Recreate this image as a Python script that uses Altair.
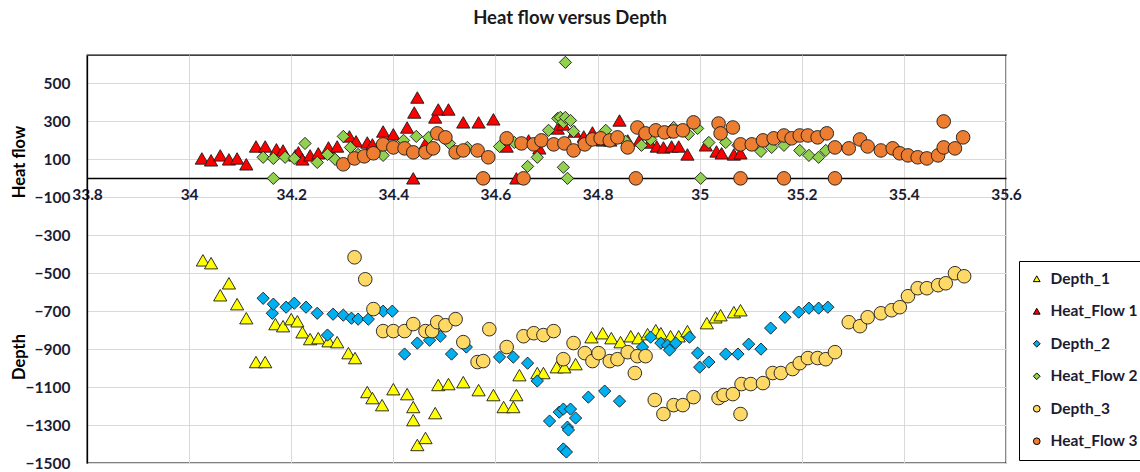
import altair as alt
import pandas as pd

# ---------------- data ----------------
series_names = ["Depth_1", "Heat_Flow 1", "Depth_2", "Heat_Flow 2", "Depth_3", "Heat_Flow 3"]
series_colors = ["#FFFF00", "#FF0000", "#00B0F0", "#92D050", "#FFD966", "#ED7D31"]
series_shapes = ["triangle-up", "triangle-up", "diamond", "diamond", "circle", "circle"]

x_ticks = [33.8, 34.0, 34.2, 34.4, 34.6, 34.8, 35.0, 35.2, 35.4, 35.6]
y_ticks = [-1500, -1300, -1100, -900, -700, -500, -300, -100, 100, 300, 500]

depth1_x = [34.027, 34.043, 34.061, 34.078, 34.094, 34.112, 34.131, 34.149, 34.169, 34.184,
            34.200, 34.212, 34.222, 34.237, 34.253, 34.273, 34.290, 34.312, 34.325, 34.349,
            34.359, 34.378, 34.400, 34.427, 34.439, 34.439, 34.447, 34.463, 34.482, 34.488,
            34.508, 34.537, 34.567, 34.596, 34.616, 34.635, 34.641, 34.647, 34.682, 34.694,
            34.720, 34.735, 34.757, 34.788, 34.810, 34.827, 34.845, 34.865, 34.880, 34.898,
            34.914, 34.924, 34.943, 34.959, 34.976, 35.014, 35.031, 35.041, 35.067, 35.080]
depth1_y = [-432, -447, -616, -553, -663, -737, -968, -968, -768, -779,
            -742, -753, -811, -847, -842, -858, -863, -921, -947, -1126,
            -1158, -1195, -1111, -1137, -1205, -1274, -1405, -1368, -1237, -1089,
            -1084, -1074, -1116, -1142, -1205, -1205, -1142, -1037, -1026, -1026,
            -995, -995, -979, -837, -816, -842, -863, -832, -842, -821,
            -800, -816, -832, -832, -805, -763, -732, -721, -705, -695]

heat1_x = [34.025, 34.043, 34.061, 34.078, 34.094, 34.112, 34.131, 34.149, 34.171, 34.184,
           34.208, 34.214, 34.222, 34.237, 34.253, 34.273, 34.290, 34.314, 34.327, 34.349,
           34.359, 34.380, 34.400, 34.427, 34.441, 34.447, 34.439, 34.463, 34.482, 34.488,
           34.508, 34.537, 34.567, 34.596, 34.622, 34.641, 34.665, 34.686, 34.722, 34.733,
           34.755, 34.773, 34.790, 34.810, 34.825, 34.843, 34.859, 34.882, 34.902, 34.916,
           34.929, 34.945, 34.959, 34.976, 35.012, 35.033, 35.043, 35.067, 35.080]
heat1_y = [105, 95, 121, 100, 105, 74, 168, 168, 153, 147,
           121, 137, 100, 121, 132, 163, 168, 221, 195, 189,
           179, 247, 232, 268, 347, 426, 0, 184, 321, 363,
           363, 295, 295, 311, 168, 0, 200, 158, 263, 284,
           247, 221, 242, 200, 200, 305, 200, 200, 189, 168,
           163, 168, 168, 126, 174, 142, 132, 126, 132]

depth2_x = [34.145, 34.163, 34.165, 34.190, 34.206, 34.229, 34.251, 34.271, 34.282, 34.302,
            34.318, 34.331, 34.351, 34.380, 34.398, 34.422, 34.447, 34.471, 34.492, 34.514,
            34.543, 34.608, 34.635, 34.663, 34.682, 34.706, 34.725, 34.733, 34.747, 34.757,
            34.741, 34.743, 34.733, 34.739, 34.782, 34.814, 34.843, 34.888, 34.904, 34.924,
            34.937, 34.941, 34.953, 34.980, 34.996, 35.000, 35.018, 35.051, 35.075, 35.096,
            35.120, 35.139, 35.167, 35.194, 35.214, 35.233, 35.251]
depth2_y = [-632, -711, -663, -679, -658, -679, -711, -826, -716, -721,
            -737, -742, -742, -700, -700, -926, -868, -853, -832, -926,
            -889, -942, -942, -974, -1068, -1279, -1232, -1216, -1216, -1263,
            -1311, -1326, -1426, -1442, -1153, -1121, -1174, -889, -837, -868,
            -879, -905, -868, -837, -921, -995, -968, -926, -926, -874,
            -900, -789, -732, -705, -684, -684, -679]

heat2_x = [34.145, 34.165, 34.165, 34.188, 34.206, 34.227, 34.251, 34.271, 34.286, 34.302,
           34.316, 34.331, 34.380, 34.420, 34.445, 34.469, 34.510, 34.545, 34.608, 34.637,
           34.663, 34.682, 34.704, 34.722, 34.727, 34.733, 34.737, 34.747, 34.753, 34.737,
           34.733, 34.741, 34.816, 34.855, 34.886, 34.904, 34.943, 34.949, 34.978, 34.996,
           35.002, 35.018, 35.051, 35.075, 35.120, 35.141, 35.165, 35.196, 35.214, 35.233,
           35.247]
heat2_y = [111, 105, 0, 111, 105, 184, 84, 126, 100, 221,
           163, 126, 121, 200, 221, 216, 184, 163, 168, 189,
           63, 111, 253, 316, 321, 295, 321, 305, 247, 611,
           58, 0, 253, 195, 174, 205, 242, 268, 232, 263,
           0, 189, 189, 174, 142, 163, 174, 147, 121, 111,
           147]

depth3_x = [34.324, 34.345, 34.361, 34.380, 34.400, 34.422, 34.439, 34.463, 34.476, 34.486,
            34.502, 34.522, 34.537, 34.565, 34.576, 34.588, 34.622, 34.655, 34.675, 34.694,
            34.714, 34.733, 34.753, 34.775, 34.790, 34.802, 34.824, 34.839, 34.859, 34.873,
            34.878, 34.894, 34.912, 34.929, 34.949, 34.967, 34.988, 35.037, 35.047, 35.065,
            35.080, 35.082, 35.100, 35.124, 35.143, 35.159, 35.182, 35.196, 35.212, 35.231,
            35.247, 35.265, 35.292, 35.314, 35.329, 35.355, 35.376, 35.392, 35.408, 35.427,
            35.445, 35.467, 35.482, 35.500, 35.518]
depth3_y = [-416, -532, -689, -805, -805, -805, -768, -805, -805, -758,
            -774, -742, -863, -968, -963, -795, -889, -832, -816, -826,
            -805, -953, -868, -921, -963, -921, -963, -953, -916, -1026,
            -937, -937, -1168, -1242, -1195, -1195, -1153, -1158, -1142, -1137,
            -1242, -1084, -1084, -1079, -1026, -1026, -1005, -974, -947, -947,
            -953, -916, -758, -779, -732, -711, -695, -679, -621, -579,
            -579, -563, -553, -500, -516]

heat3_x = [34.302, 34.324, 34.343, 34.361, 34.380, 34.400, 34.422, 34.439, 34.463, 34.478,
           34.486, 34.502, 34.522, 34.537, 34.565, 34.576, 34.586, 34.622, 34.651, 34.655,
           34.675, 34.690, 34.714, 34.735, 34.753, 34.775, 34.790, 34.806, 34.824, 34.839,
           34.859, 34.875, 34.878, 34.894, 34.914, 34.931, 34.949, 34.967, 34.988, 35.037,
           35.041, 35.065, 35.080, 35.080, 35.102, 35.124, 35.145, 35.165, 35.165, 35.180,
           35.196, 35.212, 35.231, 35.249, 35.265, 35.265, 35.292, 35.314, 35.329, 35.355,
           35.378, 35.392, 35.408, 35.427, 35.445, 35.467, 35.478, 35.478, 35.500, 35.516]
heat3_y = [74, 105, 116, 132, 179, 163, 158, 137, 137, 158,
           237, 216, 137, 147, 147, 0, 111, 211, 184, 0,
           179, 200, 179, 184, 147, 179, 205, 211, 200, 216,
           163, 0, 268, 237, 253, 242, 247, 253, 295, 289,
           237, 268, 179, 0, 179, 200, 211, 226, 0, 211,
           226, 226, 216, 237, 163, 0, 158, 205, 168, 147,
           158, 132, 121, 111, 105, 121, 163, 300, 158, 216]

# ---------------- table ----------------
all_x = [depth1_x, heat1_x, depth2_x, heat2_x, depth3_x, heat3_x]
all_y = [depth1_y, heat1_y, depth2_y, heat2_y, depth3_y, heat3_y]
rows = []
for name, xs, ys in zip(series_names, all_x, all_y):
    for xv, yv in zip(xs, ys):
        rows.append({"series": name, "x": xv, "y": yv})
df = pd.DataFrame(rows)

FONT = "Lato"
LABEL_COLOR = "#1b1b33"

legend = alt.Legend(
    title=None, orient="none", legendX=932, legendY=206,
    strokeColor="black", fillColor="white", padding=10, rowPadding=15.5,
    symbolSize=45, symbolStrokeColor="black", symbolStrokeWidth=1,
    labelFont=FONT, labelFontSize=15.5, labelFontWeight="bold",
    labelColor=LABEL_COLOR, labelOffset=6, cornerRadius=0,
)

x_enc = alt.X("x:Q",
              scale=alt.Scale(domain=[33.8, 35.6], nice=False, zero=False),
              axis=alt.Axis(values=x_ticks, format="~g", title=None, grid=True,
                            gridColor="#D9D9D9", gridWidth=1, ticks=False, tickSize=0,
                            domain=True, domainColor="black", domainWidth=1.3,
                            offset=-285, labelFlush=False, labelOverlap=False,
                            labelPadding=9, labelFont=FONT, labelFontSize=15.5,
                            labelFontWeight="bold", labelColor=LABEL_COLOR))
y_enc = alt.Y("y:Q",
              scale=alt.Scale(domain=[-1500, 650], nice=False, zero=False),
              axis=alt.Axis(values=y_ticks, format="d", title=None, grid=True,
                            gridColor="#D9D9D9", gridWidth=1, ticks=False, tickSize=0,
                            domain=True, domainColor="black", domainWidth=1.3,
                            labelPadding=17, labelFont=FONT, labelFontSize=15.5,
                            labelFontWeight="bold", labelColor=LABEL_COLOR))


def point_layer(names, size, with_legend):
    leg = legend if with_legend else None
    return alt.Chart(df).transform_filter(
        alt.FieldOneOfPredicate(field="series", oneOf=names)
    ).mark_point(
        filled=True, opacity=1, fillOpacity=1, stroke="#1a1a1a", strokeWidth=0.9, size=size
    ).encode(
        x=x_enc, y=y_enc,
        color=alt.Color("series:N", scale=alt.Scale(domain=series_names, range=series_colors),
                        legend=leg),
        shape=alt.Shape("series:N", scale=alt.Scale(domain=series_names, range=series_shapes),
                        legend=leg),
    )


tri = point_layer(["Depth_1", "Heat_Flow 1"], 175, True)
dia = point_layer(["Depth_2", "Heat_Flow 2"], 150, False)
cir = point_layer(["Depth_3", "Heat_Flow 3"], 185, False)

title_text = alt.Chart(pd.DataFrame({"t": ["Heat flow versus Depth"]})).mark_text(
    font=FONT, fontSize=18.5, fontWeight="bold", color="#1a1a1a", align="center", baseline="middle"
).encode(text="t:N", x=alt.value(483), y=alt.value(-37))

hf_title = alt.Chart(pd.DataFrame({"t": ["Heat flow"]})).mark_text(
    font=FONT, fontSize=16.5, fontWeight="bold", color="black", angle=270,
    align="center", baseline="middle"
).encode(text="t:N", x=alt.value(-67), y=alt.value(107))

depth_title = alt.Chart(pd.DataFrame({"t": ["Depth"]})).mark_text(
    font=FONT, fontSize=16.5, fontWeight="bold", color="black", angle=270,
    align="center", baseline="middle"
).encode(text="t:N", x=alt.value(-67), y=alt.value(302))

chart = alt.layer(tri, dia, cir, title_text, hf_title, depth_title).properties(
    width=919, height=408,
    padding={"left": 87, "top": 55, "right": 134, "bottom": 9},
    autosize=alt.AutoSizeParams(type="none"),
).configure_view(stroke="black", strokeWidth=1.3)

chart.save("out.html", embed_options={"renderer": "svg", "actions": False})
